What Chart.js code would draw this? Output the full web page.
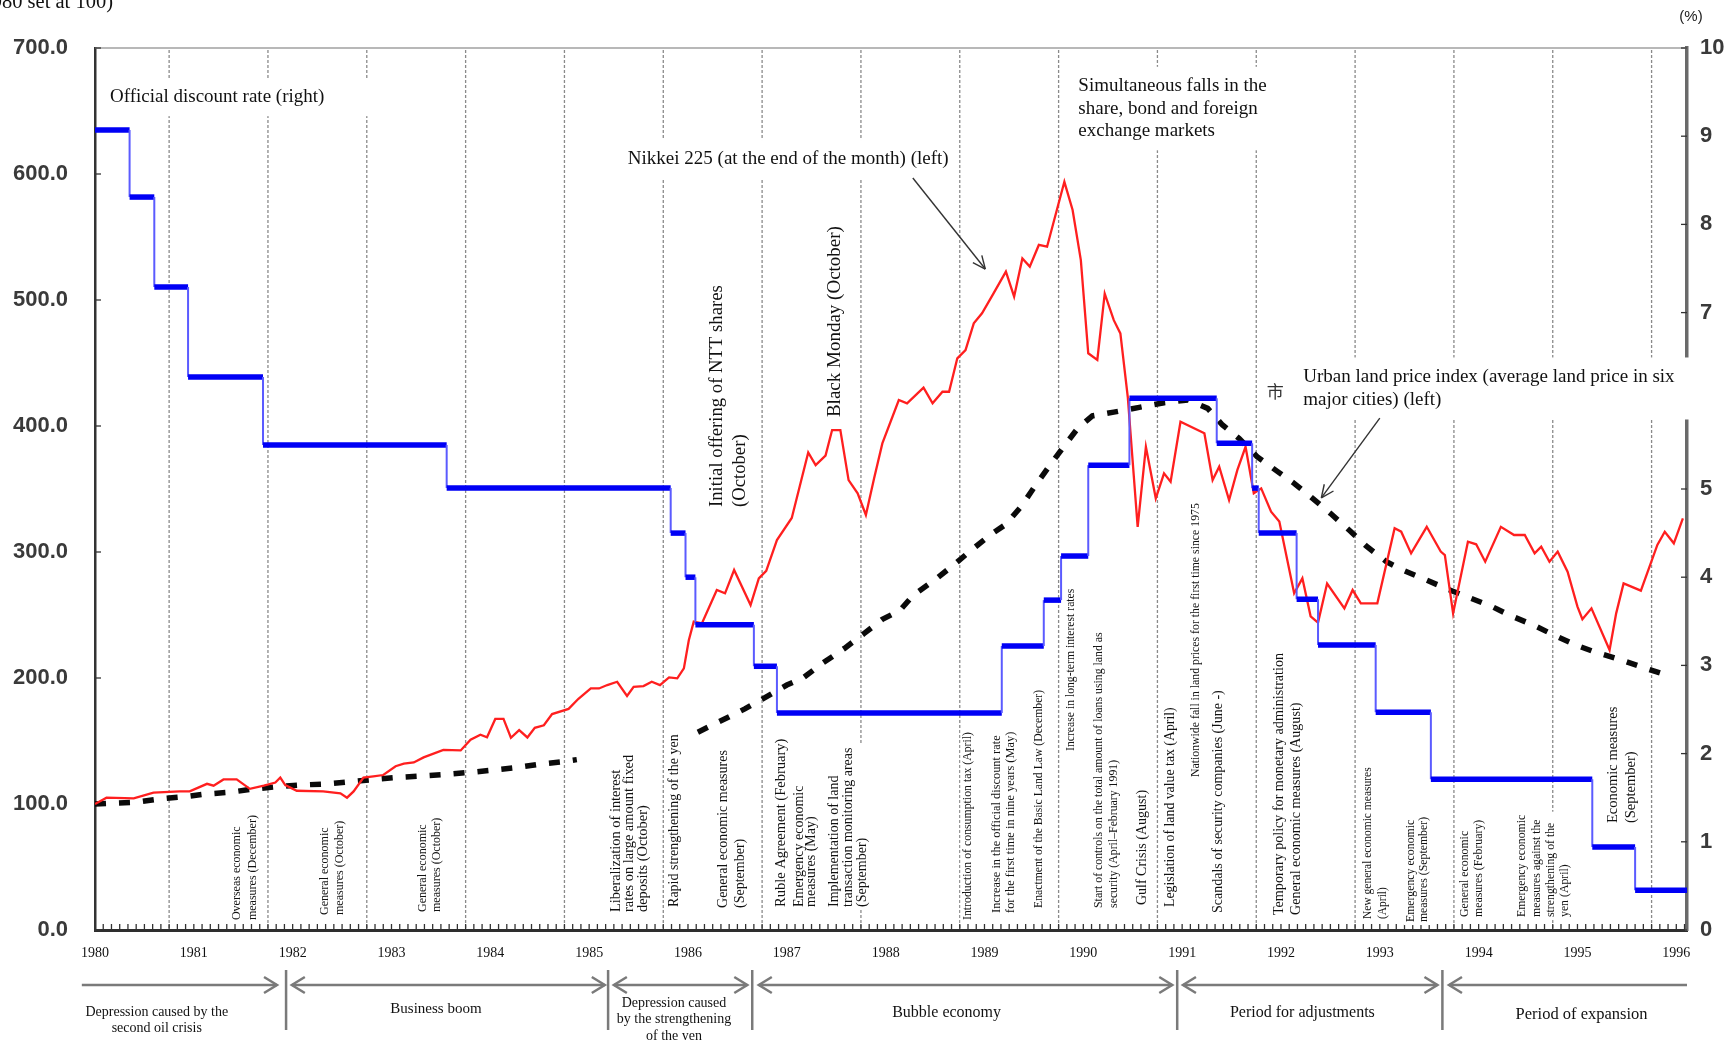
<!DOCTYPE html>
<html>
<head>
<meta charset="utf-8">
<script src="https://cdn.jsdelivr.net/npm/chart.js@4.4.0/dist/chart.umd.min.js"></script>
<style>
  html, body { margin: 0; padding: 0; background: #fff; }
  #wrap { width: 1731px; height: 1040px; }
</style>
</head>
<body>
<div id="wrap"><canvas id="chart" width="1731" height="1040"></canvas></div>
<script>
// ---- values (x = months since January 1980) -----------------------------

const yearLabels = ['1980', '1981', '1982', '1983', '1984', '1985', '1986', '1987', '1988',
  '1989', '1990', '1991', '1992', '1993', '1994', '1995', '1996'];
const leftTicks = [0, 100, 200, 300, 400, 500, 600, 700];
const rightTicks = [0, 1, 2, 3, 4, 5, 6, 7, 8, 9, 10];
const X_END = 193.3;

// Nikkei 225, end of month (1980 = 100), left axis
const nikkeiMonths = [0, 1.4, 4.7, 7.1, 10.3, 11.5, 13.6, 14.4, 15.6, 17.2,
  18.8, 20.5, 21.9, 22.5, 23.1, 24.5, 27.7, 29.8, 30.6, 31.4,
  32.6, 33.8, 35.0, 36.5, 37.5, 38.7, 39.9, 42.3, 44.4, 45.6,
  46.8, 47.6, 48.6, 49.6, 50.5, 51.5, 52.5, 53.4, 54.5, 55.5,
  57.5, 58.7, 60.2, 61.2, 62.2, 63.4, 64.6, 65.4, 66.6, 67.6,
  68.6, 69.7, 70.7, 71.5, 72.1, 72.7, 73.7, 75.5, 76.5, 77.6,
  79.6, 80.6, 81.5, 82.8, 84.6, 86.6, 87.5, 88.7, 89.5, 90.5,
  91.5, 92.6, 93.6, 94.6, 95.6, 97.6, 98.6, 100.6, 101.7, 102.9,
  103.7, 104.7, 105.7, 106.7, 107.7, 109.1, 110.6, 111.6, 112.6, 113.5,
  114.6, 115.6, 117.7, 118.7, 119.7, 120.6, 121.7, 122.6, 123.7, 124.5,
  125.4, 126.6, 127.6, 128.8, 129.8, 130.6, 131.8, 134.7, 135.7, 136.5,
  137.7, 138.7, 139.7, 140.7, 141.6, 142.8, 143.8, 145.6, 146.6, 147.6,
  148.5, 149.6, 151.7, 152.7, 153.7, 155.7, 157.8, 158.6, 159.8, 161.7,
  163.4, 163.9, 164.9, 166.7, 167.7, 168.8, 170.7, 172.3, 173.6, 174.8,
  175.6, 176.6, 177.6, 178.8, 180.0, 180.6, 181.7, 183.9, 184.7, 185.6,
  187.7, 189.7, 190.6, 191.7, 192.8];
const nikkeiValues = [100, 105, 104.5, 109, 110, 110, 116, 114.5, 119.5, 119.5,
  112, 114.5, 117, 121, 115, 110.5, 110, 108.5, 105, 110,
  121, 122, 123, 130, 132, 133, 137, 143, 142.5, 151,
  155, 153, 167.5, 167.5, 152.6, 158.7, 152.8, 160.5, 162.5, 171.4,
  175.5, 183.5, 191.7, 191.7, 194.4, 197, 185.7, 193, 193.6, 197,
  194.4, 200.5, 199.7, 207.6, 230, 244.7, 243.4, 269.8, 267.2, 285.7,
  257.9, 279, 285, 309.5, 327, 379, 369, 376.5, 396.8, 396.8,
  357, 346.6, 329.4, 358.5, 386.2, 420.6, 418, 430.4, 418, 427.2,
  427.2, 453.7, 460.3, 481.5, 489.4, 505.3, 522.5, 502.6, 533, 526.5,
  543.7, 542.3, 593.8, 571.4, 531.7, 457.7, 452.4, 505, 484, 473.5,
  423, 320, 383.5, 342.6, 362.4, 355.8, 403.4, 394.2, 357.1, 367.7,
  341.3, 365, 383.5, 346.6, 350.5, 332, 324.1, 267.2, 279.1, 249,
  244, 275, 255.3, 269.8, 259.3, 259.3, 318.8, 316.1, 298.9, 320,
  300.3, 297.6, 251.3, 308.2, 306.1, 292.3, 320, 313.5, 313.5, 298.9,
  304.2, 292.3, 300.3, 284.4, 256.6, 246.6, 255.3, 222.2, 251.3, 275.1,
  269.3, 305.6, 316.1, 306.9, 326.7];

// Urban land price index, six major cities, left axis
// (null = stretch hidden behind the 1985-86 event labels)
const landMonths = [0, 4.9, 7.9, 10.9, 13.4, 16.4, 19.2, 22.3, 25.1, 28,
  31, 34, 36.9, 39.5, 42.5, 45.6, 48.4, 51, 54.1, 56.9,
  58.5, 66, 73.2, 76, 78.9, 81.5, 84,
  85.9, 88.3, 91, 93.4, 95.6, 97.7, 99.4, 102, 104.3, 106.5,
  108.7, 110.6, 112.5, 114.1, 115.8, 117.5, 119.3, 121.1, 123.7, 126.8,
  129.8, 132.7, 135.1, 136.9, 138.9, 141.1, 143.6, 145.6, 147.6, 150,
  152.5, 154.3, 156.8, 158.6, 161.5, 164.2, 167.1, 169.5, 171.7, 174.6,
  177.4, 180, 182, 185.1, 187.9, 191];
const landValues = [100, 101.3, 104, 105.8, 107.9, 109.3, 111.9, 113.8, 115.1, 115.9,
  117.7, 119.6, 121.2, 122.2, 123.5, 125.1, 127, 128.8, 131.7, 133.6,
  135.2, null, 157, 166, 175.5, 185, 194.4,
  199.7, 211.6, 223.5, 235.4, 246.6, 253.4, 266, 278, 290, 302,
  313.5, 322, 336.5, 352, 367.5, 382.5, 398, 408, 411, 414.8,
  418.5, 420.6, 414, 400.8, 390.2, 375.7, 363.8, 354.5, 343.9, 330.7,
  316.1, 305, 292.3, 286.2, 278.2, 270.6, 263.2, 257.1, 250, 242.1,
  233.3, 225.7, 220.9, 214.8, 208.5, 201.9];

// Official discount rate (%), right axis: month each level starts, and the level
// as it sits against the right-hand scale
const rateStartMonths = [0, 4.2, 7.2, 11.3, 20.4, 42.7, 69.9, 71.7, 72.9, 80.0,
  82.8, 110.1, 115.2, 117.3, 120.6, 125.6, 136.2, 140.5, 141.3, 145.9,
  148.5, 155.5, 162.2, 181.8, 187.0];
const rateLevels = [9.07, 8.31, 7.29, 6.27, 5.5, 5.01, 4.5, 4.0, 3.46, 2.99,
  2.46, 3.22, 3.74, 4.24, 5.27, 6.03, 5.52, 5.01, 4.5, 3.75,
  3.23, 2.47, 1.71, 0.94, 0.45];

// ---- annotations (x in months, y in left-axis units) ----------------------

const SERIF = "'Liberation Serif', 'Times New Roman', serif";
const SANS = "'Liberation Sans', Arial, sans-serif";

const guideMonths = yearLabels.slice(1).map((_, k) => 9 + 12 * k);

// rotated event labels, anchored at the bottom of the first line
const eventNotes = [
  { m: 17.24, v: 7.9, size: 12, lh: 16, lines: ['Overseas economic', 'measures (December)'] },
  { m: 27.93, v: 11.9, size: 12, lh: 15, lines: ['General economic', 'measures (October)'] },
  { m: 39.83, v: 14.3, size: 12, lh: 14, lines: ['General economic', 'measures (October)'] },
  { m: 63.26, v: 14.3, size: 14.4, lh: 13.5, lines: ['Liberalization of interest', 'rates on large amount fixed', 'deposits (October)'] },
  { m: 70.3, v: 18.3, size: 14, lh: 15, lines: ['Rapid strengthening of the yen'] },
  { m: 76.31, v: 17.5, size: 14, lh: 16.5, lines: ['General economic measures', '(September)'] },
  { m: 83.29, v: 18.3, size: 14.5, lh: 15, lines: ['Ruble Agreement (February)'] },
  { m: 85.48, v: 18.3, size: 14, lh: 12.5, lines: ['Emergency economic', 'measures (May)'] },
  { m: 89.79, v: 18.3, size: 14, lh: 14, lines: ['Implementation of land', 'transaction monitoring areas', '(September)'] },
  { m: 106.0, v: 7.9, size: 11.8, lh: 13, lines: ['Introduction of consumption tax (April)'] },
  { m: 109.5, v: 13.5, size: 12.4, lh: 13.5, lines: ['Increase in the official discount rate', 'for the first time in nine years (May)'] },
  { m: 114.6, v: 17.5, size: 11.7, lh: 13, lines: ['Enactment of the Basic Land Law (December)'] },
  { m: 118.5, v: 142.1, size: 11.7, lh: 13, lines: ['Increase in long-term interest rates'] },
  { m: 121.9, v: 17.5, size: 11.8, lh: 15, lines: ['Start of controls on the total amount of loans using land as', 'security (April\u2013February 1991)'] },
  { m: 127.2, v: 19.8, size: 14, lh: 15, lines: ['Gulf Crisis (August)'] },
  { m: 130.6, v: 18.3, size: 13.8, lh: 15, lines: ['Legislation of land value tax (April)'] },
  { m: 133.7, v: 121.4, size: 11.8, lh: 13, lines: ['Nationwide fall in land prices for the first time since 1975'] },
  { m: 136.4, v: 13.5, size: 14, lh: 15, lines: ['Scandals of security companies (June -)'] },
  { m: 143.8, v: 11.9, size: 14.1, lh: 16.5, lines: ['Temporary policy for monetary administration', 'General economic measures (August)'] },
  { m: 154.6, v: 8.7, size: 11.5, lh: 14.5, lines: ['New general economic measures', '(April)'] },
  { m: 159.8, v: 6.3, size: 11.8, lh: 13, lines: ['Emergency economic', 'measures (September)'] },
  { m: 166.3, v: 10.3, size: 11.8, lh: 14, lines: ['General economic', 'measures (February)'] },
  { m: 173.3, v: 10.3, size: 11.8, lh: 14.3, lines: ['Emergency economic', 'measures against the', 'strengthening of the', 'yen (April)'] },
  { m: 184.3, v: 84.9, size: 14.5, lh: 18.5, lines: ['Economic measures', '(September)'] },
  { m: 75.49, v: 335.7, size: 18.7, lh: 23.5, lines: ['Initial offering of NTT shares', '(October)'] },
  { m: 89.85, v: 407.1, size: 19, lh: 20, lines: ['Black Monday (October)'] }
];

// horizontal series captions (first-line centre)
const captionNotes = [
  { m: 1.82, v: 661, size: 19, lh: 22, lines: ['Official discount rate (right)'], padR: 60 },
  { m: 64.7, v: 611.9, size: 19, lh: 22, lines: ['Nikkei 225 (at the end of the month) (left)'] },
  { m: 119.4, v: 669.8, size: 19, lh: 22.5, lines: ['Simultaneous falls in the', 'share, bond and foreign', 'exchange markets'], padR: 30 },
  { m: 146.7, v: 438.9, size: 19, lh: 23, lines: ['Urban land price index (average land price in six', 'major cities) (left)'], toEdge: true }
];

const pointerArrows = [
  { from: [99.3, 596.8], to: [108.1, 524.6] },
  { from: [156.0, 406.3], to: [148.9, 342.9] }
];

// phases of the economy under the axis (y offsets in px below the plot)
const phaseBreaks = [23.2, 62.3, 79.8, 131.4, 163.6];
const phases = [
  { from: -1.6, to: 22.1, heads: 'right', m: 7.5, dy: 82, size: 14, lh: 16.3, lines: ['Depression caused by the', 'second oil crisis'] },
  { from: 23.9, to: 61.9, heads: 'both', m: 41.4, dy: 79, size: 15, lh: 16, lines: ['Business boom'] },
  { from: 63.0, to: 79.2, heads: 'both', m: 70.3, dy: 73, size: 14, lh: 16.5, lines: ['Depression caused', 'by the strengthening', 'of the yen'] },
  { from: 80.6, to: 130.8, heads: 'both', m: 103.4, dy: 83, size: 16, lh: 16, lines: ['Bubble economy'] },
  { from: 132.1, to: 163.0, heads: 'both', m: 146.6, dy: 83, size: 16, lh: 16, lines: ['Period for adjustments'] },
  { from: 164.4, to: X_END, heads: 'left', m: 180.5, dy: 85, size: 16.5, lh: 16, lines: ['Period of expansion'] }
];

// ---- helpers --------------------------------------------------------------

function toPoints(xs, ys) {
  return xs.map((x, i) => ({ x, y: ys[i] }));
}

function stepPoints(starts, levels, end) {
  const pts = [];
  levels.forEach((lv, i) => {
    const x1 = i + 1 < starts.length ? starts[i + 1] : end;
    pts.push({ x: starts[i], y: lv }, { x: x1, y: lv });
  });
  return pts;
}

function strokeLine(ctx, x1, y1, x2, y2) {
  ctx.beginPath();
  ctx.moveTo(x1, y1);
  ctx.lineTo(x2, y2);
  ctx.stroke();
}

function chevron(ctx, x, y, dir, len, half) {
  ctx.beginPath();
  ctx.moveTo(x - dir * len, y - half);
  ctx.lineTo(x, y);
  ctx.lineTo(x - dir * len, y + half);
  ctx.stroke();
}

function drawEventNote(ctx, note, xs, ys) {
  const x0 = xs.getPixelForValue(note.m);
  const yb = ys.getPixelForValue(note.v);
  ctx.font = `${note.size}px ${SERIF}`;
  const maxW = Math.max(...note.lines.map((l) => ctx.measureText(l).width));
  const n = note.lines.length;
  ctx.fillStyle = '#fff';
  ctx.fillRect(x0 - note.lh / 2 - 1, yb - maxW - 3, n * note.lh + 2, maxW + 6);
  ctx.save();
  ctx.translate(x0, yb);
  ctx.rotate(-Math.PI / 2);
  ctx.textAlign = 'left';
  ctx.textBaseline = 'middle';
  ctx.fillStyle = '#111';
  note.lines.forEach((l, i) => ctx.fillText(l, 0, i * note.lh));
  ctx.restore();
}

function drawCaption(ctx, note, xs, ys, width) {
  const x0 = xs.getPixelForValue(note.m);
  const y0 = ys.getPixelForValue(note.v);
  ctx.font = `${note.size}px ${SERIF}`;
  const maxW = Math.max(...note.lines.map((l) => ctx.measureText(l).width));
  const n = note.lines.length;
  const left = x0 - 8;
  const right = note.toEdge ? width : x0 + maxW + 10 + (note.padR || 0);
  ctx.fillStyle = '#fff';
  ctx.fillRect(left, y0 - note.lh / 2 - 8, right - left, (n - 1) * note.lh + note.lh + 16);
  ctx.fillStyle = '#111';
  ctx.textAlign = 'left';
  ctx.textBaseline = 'middle';
  note.lines.forEach((l, i) => ctx.fillText(l, x0, y0 + i * note.lh));
}

// ---- plugin: guide lines, inward ticks, notes, phase arrows ---------------

const decorPlugin = {
  id: 'decor',
  beforeDatasetsDraw(chart) {
    const { ctx, chartArea: a, scales: { x, y, y1 } } = chart;
    ctx.save();
    ctx.strokeStyle = '#a0a0a0';
    ctx.lineWidth = 1.5;
    strokeLine(ctx, a.left, a.top, a.right, a.top);

    ctx.strokeStyle = '#8a8a8a';
    ctx.lineWidth = 1.3;
    ctx.setLineDash([3, 2]);
    guideMonths.forEach((m) => {
      const px = x.getPixelForValue(m);
      strokeLine(ctx, px, a.top + 2, px, a.bottom);
    });
    ctx.setLineDash([]);

    ctx.strokeStyle = '#333';
    ctx.lineWidth = 1.3;
    for (let m = 1; m <= Math.floor(X_END); m++) {
      const px = x.getPixelForValue(m);
      strokeLine(ctx, px, a.bottom - 1, px, a.bottom - 6);
    }
    leftTicks.forEach((v) => {
      const py = y.getPixelForValue(v);
      strokeLine(ctx, a.left, py, a.left + 6, py);
    });
    rightTicks.forEach((v) => {
      const py = y1.getPixelForValue(v);
      strokeLine(ctx, a.right - 6, py, a.right, py);
    });
    ctx.restore();
  },
  afterDraw(chart) {
    const { ctx, chartArea: a, scales: { x, y } } = chart;
    ctx.save();

    eventNotes.forEach((n) => drawEventNote(ctx, n, x, y));
    captionNotes.forEach((n) => drawCaption(ctx, n, x, y, chart.width));

    // stray glyph next to the land-price caption
    ctx.font = "17px 'Noto Sans CJK SC'";
    ctx.fillStyle = '#333';
    ctx.textAlign = 'center';
    ctx.textBaseline = 'middle';
    ctx.fillText('\u5e02', x.getPixelForValue(143.3), y.getPixelForValue(427));

    // pointer arrows
    ctx.strokeStyle = '#333';
    ctx.lineWidth = 1.4;
    pointerArrows.forEach((p) => {
      const x1 = x.getPixelForValue(p.from[0]), y1p = y.getPixelForValue(p.from[1]);
      const x2 = x.getPixelForValue(p.to[0]), y2p = y.getPixelForValue(p.to[1]);
      strokeLine(ctx, x1, y1p, x2, y2p);
      const ang = Math.atan2(y2p - y1p, x2 - x1);
      [0.42, -0.42].forEach((d) => {
        strokeLine(ctx, x2, y2p, x2 - 14 * Math.cos(ang + d), y2p - 14 * Math.sin(ang + d));
      });
    });

    // unit labels
    ctx.fillStyle = '#222';
    ctx.font = `15px ${SANS}`;
    ctx.textAlign = 'center';
    ctx.fillText('(%)', 1691, 17);
    ctx.font = `20.5px ${SERIF}`;
    ctx.textAlign = 'right';
    ctx.fillStyle = '#111';
    ctx.fillText('(1980 set at 100)', 113, 3);

    // phases of the economy
    const base = a.bottom;
    ctx.strokeStyle = '#7a7a7a';
    ctx.lineWidth = 2.5;
    phaseBreaks.forEach((m) => {
      const px = x.getPixelForValue(m);
      strokeLine(ctx, px, base + 40, px, base + 100);
    });
    phases.forEach((p) => {
      const x1 = x.getPixelForValue(p.from), x2 = x.getPixelForValue(p.to);
      const yy = base + 55;
      ctx.strokeStyle = '#7a7a7a';
      ctx.lineWidth = 2.5;
      strokeLine(ctx, x1, yy, x2, yy);
      if (p.heads !== 'left') chevron(ctx, x2, yy, 1, 13, 8);
      if (p.heads !== 'right') chevron(ctx, x1, yy, -1, 13, 8);
      ctx.fillStyle = '#111';
      ctx.font = `${p.size}px ${SERIF}`;
      ctx.textAlign = 'center';
      ctx.textBaseline = 'middle';
      const cx = x.getPixelForValue(p.m);
      p.lines.forEach((l, i) => ctx.fillText(l, cx, base + p.dy + i * p.lh));
    });
    ctx.restore();
  }
};

// ---- chart ------------------------------------------------------------------

const ratePoints = stepPoints(rateStartMonths, rateLevels, X_END);

new Chart(document.getElementById('chart'), {
  type: 'line',
  data: {
    datasets: [
      {
        label: 'Official discount rate (right)',
        data: ratePoints,
        yAxisID: 'y1',
        borderColor: '#0000ff',
        borderWidth: 5,
        pointRadius: 0,
        tension: 0,
        segment: {
          borderWidth: (c) => (c.p0.parsed.y === c.p1.parsed.y ? 5.5 : 2),
          borderColor: (c) => (c.p0.parsed.y === c.p1.parsed.y ? '#0000f5' : '#5b5bff')
        }
      },
      {
        label: 'Nikkei 225 (at the end of the month) (left)',
        data: toPoints(nikkeiMonths, nikkeiValues),
        yAxisID: 'y',
        borderColor: '#ff1f1f',
        borderWidth: 2.3,
        pointRadius: 0,
        tension: 0
      },
      {
        label: 'Urban land price index (left)',
        data: toPoints(landMonths, landValues),
        yAxisID: 'y',
        borderColor: '#0a0a0a',
        borderWidth: 5.5,
        borderDash: [11, 13],
        borderCapStyle: 'butt',
        spanGaps: false,
        pointRadius: 0,
        tension: 0
      }
    ]
  },
  options: {
    responsive: false,
    animation: false,
    parsing: false,
    layout: { padding: { top: 48, left: 0, right: 0, bottom: 0 } },
    plugins: { legend: { display: false }, tooltip: { enabled: false } },
    scales: {
      x: {
        type: 'linear',
        min: 0,
        max: X_END,
        afterFit: (s) => { s.height = 110; },
        afterBuildTicks: (s) => { s.ticks = yearLabels.map((_, i) => ({ value: i * 12 })); },
        grid: { display: false, drawTicks: false },
        border: { display: true, color: '#2e2e2e', width: 3 },
        ticks: {
          autoSkip: false,
          maxRotation: 0,
          padding: 15,
          color: '#111',
          font: { family: SERIF, size: 14 },
          callback: (v, i) => yearLabels[i]
        }
      },
      y: {
        position: 'left',
        min: 0,
        max: 700,
        afterFit: (s) => { s.width = 95; },
        afterBuildTicks: (s) => { s.ticks = leftTicks.map((v) => ({ value: v })); },
        grid: { display: false, drawTicks: false },
        border: { display: true, color: '#333', width: 2.5 },
        ticks: {
          padding: 27,
          color: '#3a3a3a',
          font: { family: SANS, size: 22, weight: 'bold' },
          callback: (v) => Number(v).toFixed(1)
        }
      },
      y1: {
        position: 'right',
        min: 0,
        max: 10,
        afterFit: (s) => { s.width = 44; },
        afterBuildTicks: (s) => { s.ticks = rightTicks.map((v) => ({ value: v })); },
        grid: { display: false, drawTicks: false },
        border: { display: true, color: '#6a6a6a', width: 3.5 },
        ticks: {
          padding: 13,
          color: '#3a3a3a',
          font: { family: SANS, size: 22, weight: 'bold' },
          callback: (v) => String(v)
        }
      }
    }
  },
  plugins: [decorPlugin]
});
</script>
</body>
</html>
